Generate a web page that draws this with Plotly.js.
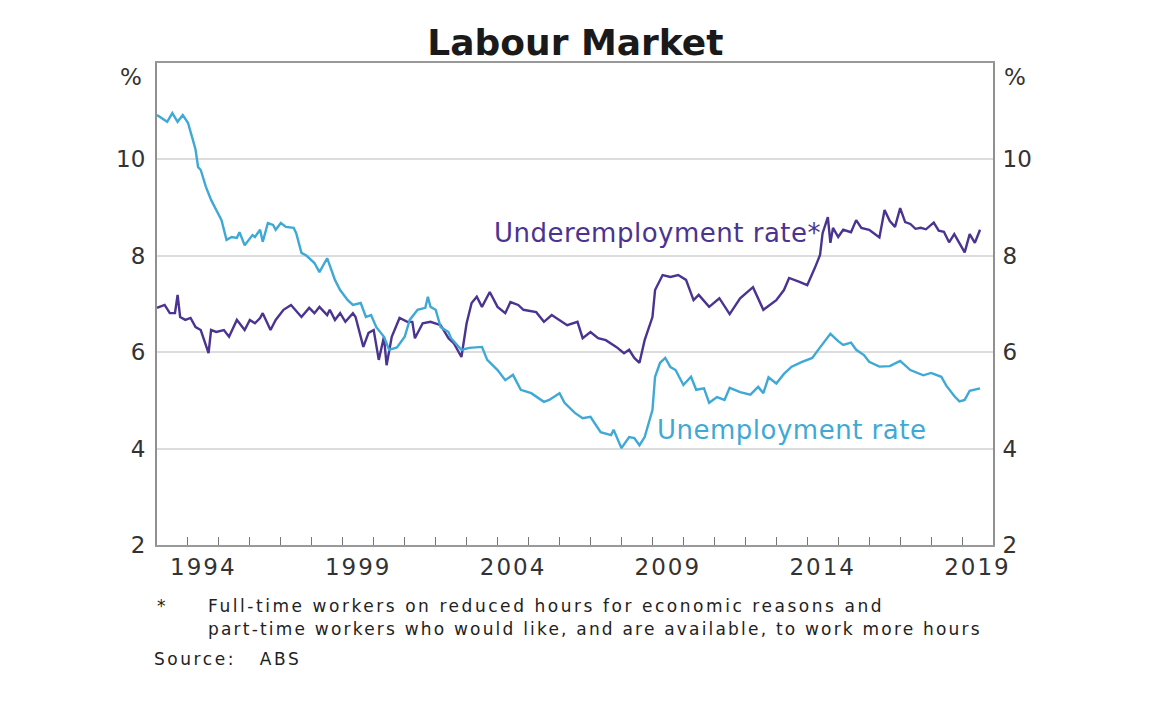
<!DOCTYPE html>
<html>
<head>
<meta charset="utf-8">
<script src="https://cdn.plot.ly/plotly-3.0.1.min.js"></script>
<style>
  html, body { margin: 0; padding: 0; background: #fff; }
  #chart { width: 1160px; height: 704px; }
</style>
</head>
<body>
<div id="chart"></div>
<script>
// Unemployment rate (%)
const unempDates = [
  '1993-01','1993-05','1993-07','1993-09','1993-11','1994-01','1994-03','1994-04','1994-05','1994-06',
  '1994-08','1994-10','1994-12','1995-02','1995-04','1995-06','1995-08','1995-09','1995-11','1996-02',
  '1996-03','1996-05','1996-06','1996-08','1996-10','1996-11','1997-01','1997-03','1997-06','1997-07',
  '1997-09','1997-11','1998-02','1998-04','1998-07','1998-10','1998-12','1999-03','1999-05','1999-08',
  '1999-10','1999-12','2000-02','2000-05','2000-07','2000-10','2001-01','2001-03','2001-06','2001-09',
  '2001-10','2001-11','2002-01','2002-03','2002-06','2002-07','2002-11','2003-02','2003-07','2003-09',
  '2004-01','2004-04','2004-07','2004-10','2005-02','2005-07','2005-09','2006-01','2006-03','2006-07',
  '2006-10','2007-01','2007-05','2007-09','2007-10','2008-01','2008-04','2008-06','2008-08','2008-10',
  '2009-01','2009-02','2009-04','2009-06','2009-08','2009-10','2010-01','2010-04','2010-06','2010-09',
  '2010-11','2011-02','2011-05','2011-07','2011-11','2012-03','2012-06','2012-08','2012-10','2013-01',
  '2013-04','2013-07','2013-11','2014-03','2014-06','2014-10','2015-01','2015-03','2015-06','2015-08',
  '2015-11','2016-01','2016-05','2016-09','2017-01','2017-05','2017-10','2018-01','2018-05','2018-07',
  '2018-10','2018-12','2019-02','2019-04','2019-08'
];
const unempRate = [
  10.92,10.78,10.96,10.78,10.92,10.76,10.4,10.2,9.84,9.78,
  9.43,9.16,8.95,8.74,8.33,8.39,8.37,8.49,8.22,8.43,
  8.39,8.54,8.29,8.68,8.64,8.54,8.68,8.6,8.58,8.47,
  8.06,8.0,7.85,7.66,7.95,7.5,7.29,7.08,6.98,7.02,
  6.73,6.77,6.52,6.32,6.05,6.1,6.32,6.67,6.88,6.92,
  7.15,6.94,6.88,6.52,6.42,6.29,6.05,6.09,6.11,5.84,
  5.63,5.42,5.53,5.22,5.15,4.97,5.01,5.15,4.95,4.74,
  4.63,4.66,4.34,4.28,4.39,4.01,4.24,4.22,4.07,4.24,
  4.8,5.49,5.78,5.88,5.69,5.63,5.32,5.49,5.22,5.25,
  4.95,5.07,5.01,5.26,5.17,5.12,5.28,5.15,5.48,5.35,
  5.55,5.7,5.8,5.88,6.1,6.38,6.23,6.15,6.2,6.05,
  5.94,5.8,5.7,5.71,5.82,5.63,5.52,5.57,5.49,5.3,
  5.09,4.98,5.01,5.2,5.25
];

// Underemployment rate (%)
const underDates = [
  '1993-01','1993-04','1993-06','1993-08','1993-09','1993-10','1993-12','1994-02','1994-04','1994-06',
  '1994-09','1994-10','1994-12','1995-03','1995-05','1995-08','1995-09','1995-11','1996-01','1996-03',
  '1996-05','1996-06','1996-09','1996-11','1997-02','1997-05','1997-09','1997-12','1998-02','1998-04',
  '1998-07','1998-08','1998-10','1998-12','1999-02','1999-05','1999-06','1999-09','1999-11','2000-01',
  '2000-03','2000-05','2000-06','2000-08','2000-11','2001-02','2001-04','2001-05','2001-08','2001-11',
  '2002-03','2002-06','2002-08','2002-11','2003-01','2003-03','2003-05','2003-07','2003-10','2004-01',
  '2004-04','2004-06','2004-09','2004-11','2005-04','2005-07','2005-10','2006-02','2006-04','2006-08',
  '2006-10','2007-01','2007-04','2007-07','2007-11','2008-02','2008-04','2008-06','2008-08','2008-10',
  '2009-01','2009-02','2009-05','2009-08','2009-11','2010-02','2010-05','2010-07','2010-11','2011-03',
  '2011-07','2011-11','2012-04','2012-08','2013-01','2013-04','2013-06','2013-10','2014-01','2014-04',
  '2014-06','2014-07','2014-09','2014-10','2014-11','2015-01','2015-03','2015-06','2015-08','2015-10',
  '2016-01','2016-02','2016-05','2016-07','2016-09','2016-11','2017-01','2017-03','2017-05','2017-07',
  '2017-09','2017-11','2018-02','2018-04','2018-06','2018-08','2018-10','2019-02','2019-04','2019-06',
  '2019-08'
];
const underRate = [
  6.92,6.98,6.81,6.81,7.19,6.73,6.67,6.71,6.52,6.46,
  5.98,6.46,6.42,6.46,6.32,6.67,6.6,6.46,6.67,6.6,
  6.71,6.81,6.46,6.67,6.88,6.98,6.73,6.92,6.81,6.94,
  6.77,6.88,6.67,6.81,6.63,6.81,6.73,6.11,6.4,6.46,
  5.84,6.32,5.73,6.32,6.71,6.63,6.63,6.29,6.6,6.63,
  6.56,6.29,6.19,5.9,6.6,7.02,7.15,6.94,7.25,6.94,
  6.81,7.04,6.98,6.88,6.83,6.63,6.77,6.63,6.56,6.63,
  6.29,6.42,6.29,6.25,6.11,5.98,6.05,5.88,5.78,6.25,
  6.73,7.29,7.6,7.56,7.6,7.5,7.08,7.19,6.94,7.12,
  6.79,7.12,7.35,6.88,7.08,7.29,7.54,7.46,7.39,7.75,
  8.02,8.47,8.8,8.27,8.58,8.39,8.54,8.49,8.74,8.58,
  8.54,8.5,8.38,8.95,8.72,8.6,8.99,8.7,8.66,8.56,
  8.58,8.55,8.69,8.52,8.5,8.28,8.45,8.07,8.45,8.27,
  8.54
];

const yearLabels = ['1994','1999','2004','2009','2014','2019'];
const yTicks = [2,4,6,8,10];

const seriesNames = ['Underemployment rate*','Unemployment rate'];
const footnoteLines = [
  'Full-time workers on reduced hours for economic reasons and',
  'part-time workers who would like, and are available, to work more hours'
];
const sourceText = 'Source:   ABS';

const colUnder = '#4a3391';
const colUnemp = '#3fa9d6';

const FONT = 'DejaVu Sans, Verdana, sans-serif';
const sp = (s, px) => '<span style="letter-spacing:' + px + 'px">' + s + '</span>';

const traces = [
  { x: underDates, y: underRate, type: 'scatter', mode: 'lines', name: seriesNames[0],
    line: { color: colUnder, width: 2.4 }, xaxis: 'x', yaxis: 'y' },
  { x: unempDates, y: unempRate, type: 'scatter', mode: 'lines', name: seriesNames[1],
    line: { color: colUnemp, width: 2.4 }, xaxis: 'x2', yaxis: 'y2' }
];

const tickFont = { family: FONT, size: 23, color: '#333' };
const noteFont = { family: FONT, size: 17, color: '#222' };
const NOTE_SP = 2.55;

const layout = {
  width: 1160, height: 704,
  margin: { l: 157, r: 167, t: 63, b: 159 },
  paper_bgcolor: '#fff', plot_bgcolor: '#fff',
  showlegend: false,
  title: { text: '<b>Labour Market</b>', x: 0.496, xanchor: 'center', y: 0.94, yanchor: 'middle',
           font: { family: FONT, size: 36, color: '#1a1a1a' } },
  xaxis: {
    type: 'date', range: ['1993-01-01', '2020-01-01'],
    tickmode: 'array', tickvals: yearLabels.map(y => y + '-07-02'), ticktext: yearLabels.map(s => sp(s, 2)),
    ticks: '', tickfont: tickFont, showgrid: false, zeroline: false,
    showline: true, linecolor: '#999', linewidth: 2, mirror: true
  },
  xaxis2: {
    type: 'date', range: ['1993-01-01', '2020-01-01'], overlaying: 'x', anchor: 'y', side: 'bottom',
    tickmode: 'linear', tick0: '1993-01-01', dtick: 'M12', ticks: 'inside', ticklen: 8,
    tickcolor: '#777', tickwidth: 1, showticklabels: false, showgrid: false, zeroline: false, showline: false
  },
  yaxis: {
    range: [2, 12], tickmode: 'array', tickvals: yTicks, ticktext: yTicks.map(String),
    ticks: '', tickfont: tickFont, showgrid: true, gridcolor: '#dcdcdc', gridwidth: 2,
    zeroline: false, showline: true, linecolor: '#909090', linewidth: 2, ticklabelstandoff: 5
  },
  yaxis2: {
    range: [2, 12], overlaying: 'y', side: 'right', anchor: 'x', tickmode: 'array', tickvals: yTicks, ticktext: yTicks.map(String),
    ticks: '', tickfont: tickFont, showgrid: false, zeroline: false,
    showline: true, linecolor: '#909090', linewidth: 2, ticklabelstandoff: 3
  },
  annotations: [
    { xref: 'paper', yref: 'paper', x: -0.031, y: 0.97, text: '%', showarrow: false, xanchor: 'center', yanchor: 'middle', font: tickFont },
    { xref: 'paper', yref: 'paper', x: 1.026, y: 0.97, text: '%', showarrow: false, xanchor: 'center', yanchor: 'middle', font: tickFont },
    { xref: 'x', yref: 'y', x: '2009-03-01', y: 8.47, text: sp(seriesNames[0], 0.5), showarrow: false, xanchor: 'center', yanchor: 'middle',
      font: { family: FONT, size: 26, color: colUnder } },
    { xref: 'x', yref: 'y', x: '2013-07-01', y: 4.39, text: sp(seriesNames[1], 0.5), showarrow: false, xanchor: 'center', yanchor: 'middle',
      font: { family: FONT, size: 26, color: colUnemp } },
    { xref: 'paper', yref: 'paper', x: -0.002, y: -0.127, text: '*', showarrow: false, xanchor: 'left', yanchor: 'middle', font: noteFont },
    { xref: 'paper', yref: 'paper', x: 0.059, y: -0.127, text: sp(footnoteLines[0], NOTE_SP), showarrow: false, xanchor: 'left', yanchor: 'middle', font: noteFont },
    { xref: 'paper', yref: 'paper', x: 0.059, y: -0.174, text: sp(footnoteLines[1], NOTE_SP - 0.35), showarrow: false, xanchor: 'left', yanchor: 'middle', font: noteFont },
    { xref: 'paper', yref: 'paper', x: -0.006, y: -0.237, text: sp(sourceText, NOTE_SP), showarrow: false, xanchor: 'left', yanchor: 'middle', font: noteFont }
  ]
};

Plotly.newPlot('chart', traces, layout, { displayModeBar: false, staticPlot: true });
</script>
</body>
</html>
